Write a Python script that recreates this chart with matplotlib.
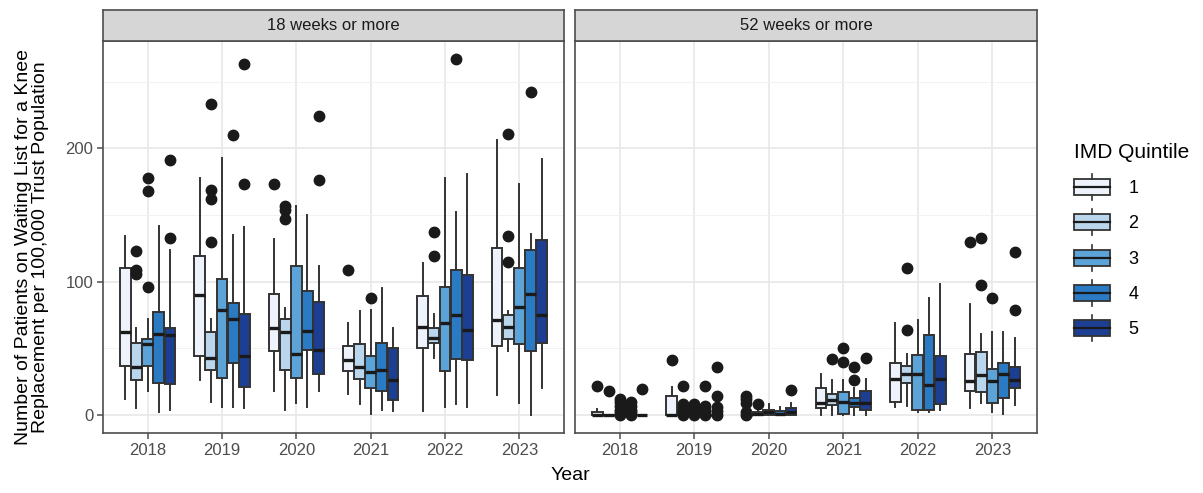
import matplotlib
matplotlib.use('Agg')
import matplotlib.pyplot as plt
from matplotlib.patches import Patch, Rectangle
from matplotlib.lines import Line2D
from matplotlib.legend_handler import HandlerBase

plt.rcParams['font.family'] = ['Liberation Sans', 'DejaVu Sans']

years = ['2018', '2019', '2020', '2021', '2022', '2023']
quintiles = ['1', '2', '3', '4', '5']
facets = ['18 weeks or more', '52 weeks or more']
colors = ['#eef2fa', '#bad6ec', '#5ca3d8', '#2a7bc4', '#1d3f93']

# rows = years, columns = IMD quintile 1..5
w18_lo = [[12, 5, 18, 2, 4], [26, 10, 6, 6, 5], [18, 4, 9, 6, 18],
          [16, 8, 1, 4, 3], [3, 43, 6, 8, 6], [15, 48, 9, 0, 20]]
w18_q1 = [[37, 26, 37, 24, 23], [44, 34, 28, 39, 21], [48, 34, 28, 49, 31],
          [33, 27, 20, 18, 11], [50, 54, 33, 42, 41], [52, 57, 53, 48, 54]]
w18_med = [[62, 36, 53, 61, 60], [90, 43, 79, 72, 44], [65, 62, 46, 63, 49],
           [41, 36, 32, 34, 26], [66, 58, 69, 75, 64], [71, 66, 81, 91, 75]]
w18_q3 = [[110, 54, 57, 77, 65], [119, 62, 102, 84, 76], [91, 72, 112, 93, 85],
          [52, 53, 44, 54, 50], [89, 65, 96, 109, 105], [125, 75, 110, 124, 131]]
w18_hi = [[134, 65, 72, 142, 124], [178, 72, 193, 135, 141], [132, 80, 157, 150, 112],
          [69, 78, 79, 95, 65], [114, 76, 178, 152, 181], [206, 78, 173, 136, 192]]
w18_out = [[[], [123, 109, 106], [178, 168, 96], [], [191, 133]],
           [[], [233, 169, 162, 130], [], [210], [263, 173]],
           [[173], [157, 154, 147], [], [], [224, 176]],
           [[109], [], [88], [], []],
           [[], [137, 119], [], [267], []],
           [[], [211, 134, 115], [], [242], []]]

w52_lo = [[0, 0, 0, 0, 0], [0, 0, 0, 0, 0], [0, 0, 0, 0, 0],
          [0, 0, 0, 0, 0], [6, 7, 2.5, 2.5, 4], [5.5, 9, 2, 0.5, 7.5]]
w52_q1 = [[0, 0, 0, 0, 0], [0, 0, 0, 0, 0], [0, 0, 0, 0, 0],
          [5, 7.5, 1, 6, 4], [10, 24, 4, 4, 8], [18, 17, 9, 12.5, 20.5]]
w52_med = [[0, 0, 0, 0, 0], [0, 0, 0, 0, 0], [0, 1, 2, 1, 2],
           [9, 11, 10, 9, 9], [27, 31, 31, 22.5, 27], [25.5, 30, 25.5, 30.5, 26]]
w52_q3 = [[2, 0, 0, 0, 0], [14, 0, 0, 0, 0], [0, 2, 4, 3, 5],
          [20, 15.5, 17.5, 12.5, 18], [39, 37, 45, 60, 44], [45.5, 47, 34.5, 39, 36]]
w52_hi = [[4.5, 0, 0, 0, 0], [21, 0, 0, 0, 0], [0, 4, 8, 6, 9],
          [31, 26, 26, 20, 27], [69, 46, 71, 88, 98], [83, 60.5, 62, 62, 57.5]]
w52_out = [[[22], [18], [0, 2, 4, 7, 10, 12], [0, 2, 4, 7, 9.5], [19.5]],
           [[41], [0, 2, 4, 6, 8, 22], [0, 2, 4, 6, 8], [0, 2, 4, 7, 22], [0, 3, 6, 14, 36]],
           [[0, 2, 9, 12, 14.5], [8], [], [], [19]],
           [[], [42], [50, 40], [36, 26], [43]],
           [[], [110, 64], [], [], []],
           [[130], [133, 97.5], [87.5], [], [122, 79]]]

panels = [(w18_lo, w18_q1, w18_med, w18_q3, w18_hi, w18_out),
          (w52_lo, w52_q1, w52_med, w52_q3, w52_hi, w52_out)]

offsets = [-0.3, -0.15, 0.0, 0.15, 0.3]
edge = '#333333'

W, H = 1203, 493
fig = plt.figure(figsize=(W / 100, H / 100), dpi=100)

def px(x0, y0, x1, y1):
    return [x0 / W, 1 - y1 / H, (x1 - x0) / W, (y1 - y0) / H]

panel_x = [(103, 564), (575, 1037)]
axes = []
for p, (xa, xb) in enumerate(panel_x):
    ax = fig.add_axes(px(xa, 41, xb, 433))
    lo, q1, med, q3, hi, out = panels[p]
    for q in range(5):
        stats = []
        pos = []
        for i in range(len(years)):
            stats.append(dict(whislo=lo[i][q], q1=q1[i][q], med=med[i][q],
                              q3=q3[i][q], whishi=hi[i][q], fliers=out[i][q]))
            pos.append(i + offsets[q])
        ax.bxp(stats, positions=pos, widths=0.145, patch_artist=True,
               showcaps=False, manage_ticks=False,
               boxprops=dict(facecolor=colors[q], edgecolor=edge, linewidth=1.4),
               medianprops=dict(color='#1a1a1a', linewidth=2.4, solid_capstyle='butt'),
               whiskerprops=dict(color=edge, linewidth=1.4),
               flierprops=dict(marker='o', markerfacecolor='#1a1a1a',
                               markeredgecolor='#1a1a1a', markersize=7.5))
    ax.set_xlim(-0.6, 5.6)
    ax.set_ylim(-13.4, 280.4)
    ax.set_xticks(range(len(years)))
    ax.set_xticklabels(years)
    ax.set_yticks([0, 100, 200])
    ax.set_yticks([50, 150, 250], minor=True)
    ax.grid(True, which='major', color='#e6e6e6', linewidth=1.1)
    ax.grid(True, which='minor', axis='y', color='#f2f2f2', linewidth=0.7)
    ax.set_axisbelow(True)
    for s in ax.spines.values():
        s.set_color('#4d4d4d')
        s.set_linewidth(1.2)
    ax.tick_params(axis='both', which='major', length=4, width=1.1, color='#4d4d4d',
                   labelsize=12, labelcolor='#4d4d4d', pad=3)
    ax.tick_params(axis='y', which='minor', length=0)
    if p == 1:
        ax.tick_params(axis='y', labelleft=False, length=0)
    axes.append(ax)

    sax = fig.add_axes(px(xa, 10, xb, 41))
    sax.set_facecolor('#d6d6d6')
    sax.set_xticks([])
    sax.set_yticks([])
    for s in sax.spines.values():
        s.set_color('#4d4d4d')
        s.set_linewidth(1.2)
    sax.text(0.5, 0.5, facets[p], ha='center', va='center', fontsize=12,
             color='#1a1a1a', transform=sax.transAxes)

fig.text(570 / W, 1 - 476 / H, 'Year', ha='center', va='center', fontsize=14)
fig.text(32 / W, 1 - 247 / H,
         'Number of Patients on Waiting List for a Knee\nReplacement per 100,000 Trust Population',
         ha='center', va='center', rotation=90, fontsize=14, linespacing=1.0)


class BoxKey(HandlerBase):
    def create_artists(self, legend, orig_handle, xdescent, ydescent,
                       width, height, fontsize, trans):
        fc = orig_handle.get_facecolor()
        x0, y0 = -xdescent, -ydescent
        cx = x0 + width / 2
        box = Rectangle((x0, y0 + height * 0.12), width, height * 0.76,
                        facecolor=fc, edgecolor=edge, linewidth=1.3, transform=trans)
        mid = Line2D([x0, x0 + width], [y0 + height / 2] * 2, color='#1a1a1a',
                     linewidth=1.6, transform=trans)
        wl = Line2D([cx, cx], [y0 - height * 0.12, y0 + height * 0.12], color=edge,
                    linewidth=1.2, transform=trans)
        wh = Line2D([cx, cx], [y0 + height * 0.88, y0 + height * 1.12], color=edge,
                    linewidth=1.2, transform=trans)
        return [box, mid, wl, wh]


handles = [Patch(facecolor=c) for c in colors]
fig.legend(handles, quintiles, title='IMD Quintile', loc='upper left',
           bbox_to_anchor=(1058 / W, 1 - 127 / H), frameon=False,
           handler_map={Patch: BoxKey()}, handlelength=2.0, handleheight=1.4,
           handletextpad=1.0, labelspacing=0.8, fontsize=13, title_fontsize=15,
           alignment='left')

fig.savefig('out.png', dpi=100)
